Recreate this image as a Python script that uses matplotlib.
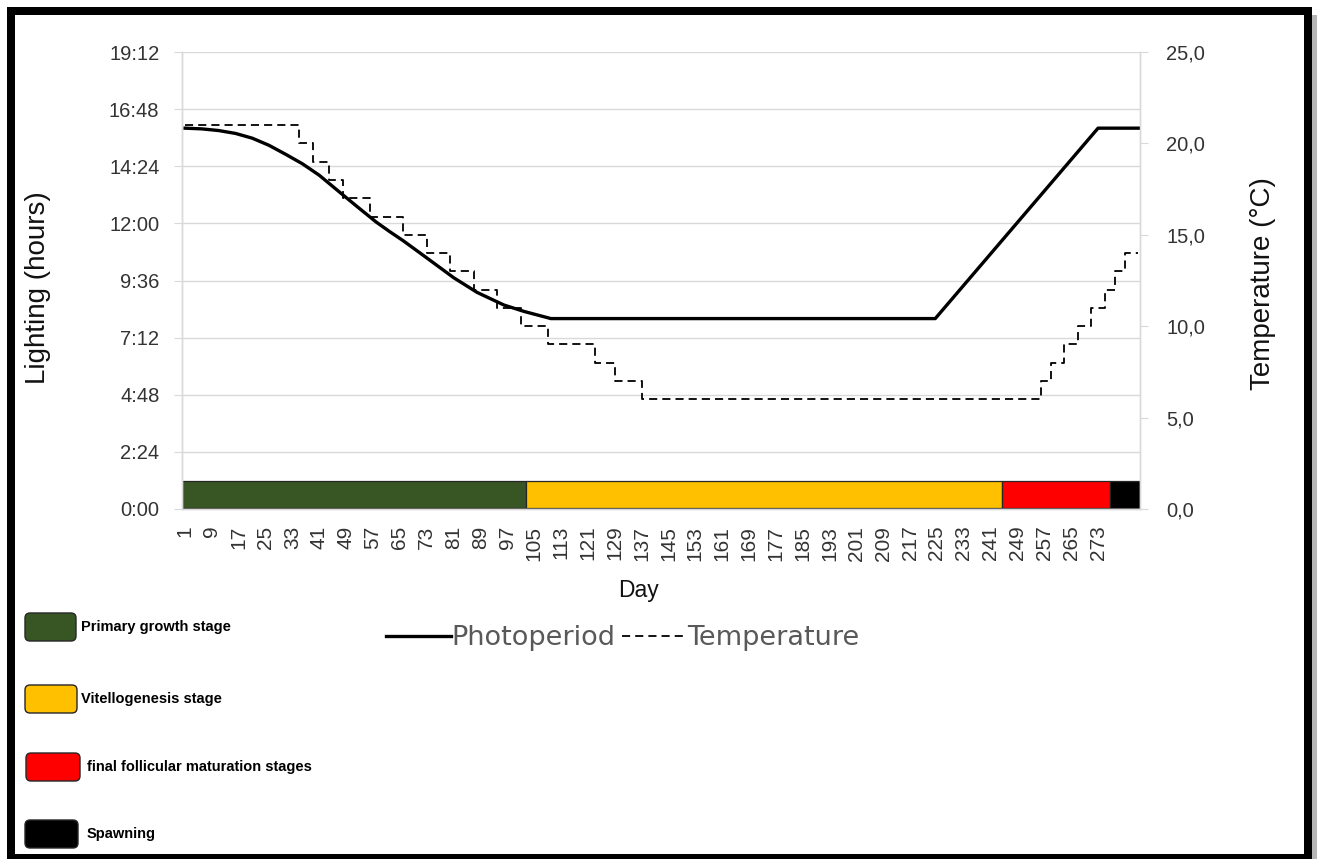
import matplotlib
matplotlib.use("Agg")
import matplotlib.pyplot as plt
from matplotlib.patches import FancyBboxPatch, Rectangle
from matplotlib.transforms import IdentityTransform
from matplotlib.ticker import FixedLocator, FuncFormatter

# photoperiod (hours of light)
photo_days = [1, 6, 11, 16, 21, 26, 31, 36, 41, 48, 53, 58, 62, 66, 73, 81, 88, 96, 102, 106, 110,
              224.5, 273, 285]
photo_hours = [16.0, 15.97, 15.9, 15.78, 15.58, 15.28, 14.9, 14.5, 14.02, 13.2, 12.62, 12.05,
               11.65, 11.27, 10.55, 9.72, 9.1, 8.57, 8.3, 8.15, 8.0,
               8.0, 16.0, 16.0]

# water temperature, day where each new level starts
temp_days = [1, 35, 39, 44, 48, 56, 66, 73, 80, 87, 94, 101, 109, 123, 129, 137,
             256, 259, 263, 267, 271, 275, 278, 281, 285]
temp_vals = [21, 20, 19, 18, 17, 16, 15, 14, 13, 12, 11, 10, 9, 8, 7, 6,
             7, 8, 9, 10, 11, 12, 13, 14, 14]

# reproductive stages along the time axis
stage_names = ["Primary growth stage", "Vitellogenesis stage",
               "final follicular maturation stages", "Spawning"]
stage_start = [0, 102.6, 244.3, 276.7]
stage_end = [102.6, 244.3, 276.7, 285.5]
stage_colors = ["#375623", "#FFC000", "#FF0000", "#000000"]

day_ticks = list(range(1, 274, 8))
hour_ticks = [0, 2.4, 4.8, 7.2, 9.6, 12.0, 14.4, 16.8, 19.2]
temp_ticks = [0, 5, 10, 15, 20, 25]

W, H = 1317, 859
fig = plt.figure(figsize=(W / 100, H / 100), dpi=100)
ax = fig.add_axes([181.7 / W, 1 - 509 / H, (1140 - 181.7) / W, 457 / H])
ax2 = ax.twinx()

grey = "#d9d9d9"
txt = "#333333"
lab_font = "Liberation Sans"

# stage bar
widths = [e - s for s, e in zip(stage_start, stage_end)]
ax.barh(0.62, widths, left=stage_start, height=1.15, color=stage_colors,
        edgecolor="#262626", linewidth=0.9, zorder=2)

l1, = ax.plot(photo_days, photo_hours, color="black", lw=2.4, zorder=4)
l2, = ax2.plot(temp_days, temp_vals, color="black", lw=1.3, linestyle=(0, (4.5, 2.8)),
               drawstyle="steps-post", zorder=4)

ax.set_xlim(0, 285.5)
ax.set_ylim(0, 19.2)
ax2.set_ylim(0, 25)

ax.yaxis.set_major_locator(FixedLocator(hour_ticks))
ax.yaxis.set_major_formatter(FuncFormatter(
    lambda v, p: "%d:%02d" % (int(round(v * 60)) // 60, int(round(v * 60)) % 60)))
ax2.yaxis.set_major_locator(FixedLocator(temp_ticks))
ax2.yaxis.set_major_formatter(FuncFormatter(lambda v, p: ("%.1f" % v).replace(".", ",")))
ax.set_xticks(day_ticks)
ax.set_xticklabels([str(d) for d in day_ticks], rotation=90)

ax.grid(axis="y", color=grey, lw=1, zorder=0)
ax.set_axisbelow(True)
for a in (ax, ax2):
    a.spines["top"].set_visible(False)
    for s in ("left", "right", "bottom"):
        a.spines[s].set_color(grey)
        a.spines[s].set_linewidth(1)
ax.tick_params(axis="y", direction="out", length=6, color=grey, labelsize=14.5, pad=10,
               labelcolor=txt)
ax2.tick_params(axis="y", direction="out", length=6, color=grey, labelsize=14.5, pad=13,
                labelcolor=txt)
ax.tick_params(axis="x", length=0, labelsize=15, pad=12, labelcolor=txt)
for t in ax.get_xticklabels() + ax.get_yticklabels() + ax2.get_yticklabels():
    t.set_fontfamily(lab_font)

ax.set_xlabel("Day", fontsize=16.5, family=lab_font, color="#111111")
ax.xaxis.set_label_coords((638 - 181.7) / 958.3, (509 - 590) / 457)
ax.xaxis.label.set_va("center")
ax.set_ylabel("Lighting (hours)", fontsize=20, family=lab_font, color="#111111")
ax.yaxis.set_label_coords((38 - 181.7) / 958.3, (509 - 288) / 457)
ax.yaxis.label.set_va("center")
ax2.set_ylabel("Temperature (°C)", fontsize=20, family=lab_font, color="#111111", rotation=90)
ax2.yaxis.set_label_coords((1263 - 181.7) / 958.3, (509 - 284) / 457)
ax2.yaxis.label.set_va("center")

fig.legend(handles=[l1, l2], labels=["Photoperiod", "Temperature"], loc="center",
           bbox_to_anchor=(623 / W, 1 - 638 / H), ncol=2, frameon=False,
           handlelength=2.4, handletextpad=0.0, columnspacing=0.25,
           prop={"family": "DejaVu Sans", "size": 19.5}, labelcolor="#595959")

# stage legend boxes drawn in pixel coordinates
box_x = [25, 25, 26, 25]
box_w = [51, 52, 54, 53]
box_top = [613, 685, 753, 820]
text_x = [81, 81, 87, 87]
idt = IdentityTransform()
for i in range(len(stage_names)):
    fig.patches.append(FancyBboxPatch((box_x[i], H - box_top[i] - 28), box_w[i], 28,
                                      boxstyle="round,pad=0,rounding_size=5",
                                      facecolor=stage_colors[i], edgecolor="#262626",
                                      lw=1, transform=idt, figure=fig))
    fig.text(text_x[i] / W, 1 - (box_top[i] + 14) / H, stage_names[i], fontsize=10.5,
             fontweight="bold", family=lab_font,
             va="center", ha="left", color="black")

# black frame with a light shadow on the right
fig.patches.append(Rectangle((1312, 0), 5, H - 15, facecolor="#b5b5b5", edgecolor="none",
                             transform=idt, figure=fig))
fig.patches.append(Rectangle((11, 1), 1296.5, H - 12, facecolor="none", edgecolor="black",
                             lw=8 * 0.72, transform=idt, figure=fig))

fig.savefig("out.png", dpi=100)
